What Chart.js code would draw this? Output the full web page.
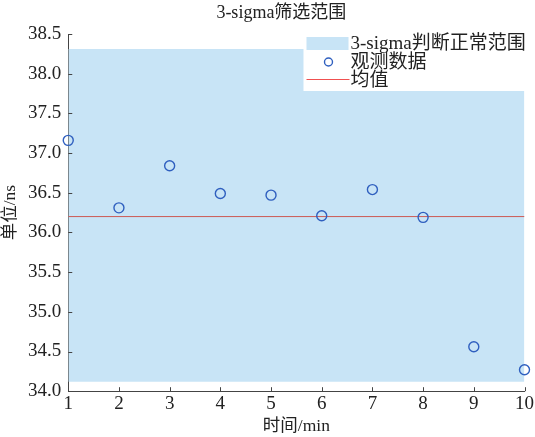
<!DOCTYPE html>
<html>
<head>
<meta charset="utf-8">
<script src="https://cdn.jsdelivr.net/npm/chart.js@4.4.0/dist/chart.umd.min.js"></script>
<style>
  body { margin: 0; background: #fff; }
  #wrap { width: 535px; height: 437px; }
</style>
</head>
<body>
<div id="wrap"><canvas id="sigmaChart" width="535" height="437"></canvas></div>
<script>
// 数据
const timeMin = [1, 2, 3, 4, 5, 6, 7, 8, 9, 10];
const observed = [37.16, 36.31, 36.84, 36.49, 36.47, 36.21, 36.54, 36.19, 34.56, 34.27];
const bandX = [1, 10];
const bandUpper = [38.31, 38.31];
const bandLower = [34.12, 34.12];
const meanValue = [36.2, 36.2];
const yTicks = [34.0, 34.5, 35.0, 35.5, 36.0, 36.5, 37.0, 37.5, 38.0, 38.5];
const legendLabels = ['3-sigma判断正常范围', '观测数据', '均值'];
const chartTitle = '3-sigma筛选范围';

const FONT = "'Liberation Serif', 'Noto Sans CJK SC', serif";
const bandColor = '#c8e4f6';
const pointColor = '#2f5fbf';
const meanColor = '#cc5a55';

function toXY(xs, ys) {
    return xs.map((x, i) => ({ x: x, y: ys[i] }));
}

// 标题（略偏左，与原图一致）
const topTitle = {
    id: 'topTitle',
    afterDraw(chart) {
        const c = chart.ctx, a = chart.chartArea;
        c.save();
        c.font = '18px ' + FONT;
        c.fillStyle = '#222';
        c.textAlign = 'center';
        c.textBaseline = 'middle';
        c.fillText(chartTitle, (a.left + a.right) / 2 - 15, 13);
        c.restore();
    }
};

// 向内的刻度线
const innerTicks = {
    id: 'innerTicks',
    afterDatasetsDraw(chart) {
        const c = chart.ctx, a = chart.chartArea;
        const xs = chart.scales.x, ys = chart.scales.y;
        c.save();
        c.strokeStyle = '#444';
        c.lineWidth = 1;
        c.beginPath();
        timeMin.forEach(v => {
            const px = Math.round(xs.getPixelForValue(v)) + 0.5;
            c.moveTo(px, a.bottom);
            c.lineTo(px, a.bottom - 4);
        });
        yTicks.forEach(v => {
            const py = Math.round(ys.getPixelForValue(v)) + 0.5;
            c.moveTo(a.left, py);
            c.lineTo(a.left + 4, py);
        });
        c.stroke();
        c.restore();
    }
};

// 图例（放在绘图区右上角）
const boxLegend = {
    id: 'boxLegend',
    afterDatasetsDraw(chart) {
        const c = chart.ctx, a = chart.chartArea;
        const left = a.right - 221, top = a.top + 1;
        c.save();
        c.fillStyle = '#fff';
        c.fillRect(left, top, 226, 56);
        c.font = '19px ' + FONT;
        c.fillStyle = '#222';
        c.textBaseline = 'middle';
        const tx = left + 47;
        // 范围
        c.fillStyle = bandColor;
        c.fillRect(left + 3, top + 2, 42, 13);
        c.fillStyle = '#222';
        c.fillText(legendLabels[0], tx, top + 9);
        // 观测数据
        c.strokeStyle = pointColor;
        c.lineWidth = 1.4;
        c.beginPath();
        c.arc(left + 25, top + 27, 4, 0, Math.PI * 2);
        c.stroke();
        c.fillText(legendLabels[1], tx, top + 28);
        // 均值
        c.strokeStyle = '#f05050';
        c.lineWidth = 1;
        c.beginPath();
        c.moveTo(left + 3, top + 44.5);
        c.lineTo(left + 46, top + 44.5);
        c.stroke();
        c.fillText(legendLabels[2], tx, top + 46);
        c.restore();
    }
};

const ctx = document.getElementById('sigmaChart').getContext('2d');
const sigmaChart = new Chart(ctx, {
    type: 'scatter',
    data: {
        datasets: [
            {
                type: 'line',
                label: 'upper',
                data: toXY(bandX, bandUpper),
                borderWidth: 0,
                pointRadius: 0,
                backgroundColor: bandColor,
                fill: '+1',
                order: 3
            },
            {
                type: 'line',
                label: 'lower',
                data: toXY(bandX, bandLower),
                borderWidth: 0,
                pointRadius: 0,
                fill: false,
                order: 3
            },
            {
                type: 'line',
                label: legendLabels[2],
                data: toXY(bandX, meanValue),
                borderColor: meanColor,
                borderWidth: 1,
                pointRadius: 0,
                fill: false,
                order: 2
            },
            {
                label: legendLabels[1],
                data: toXY(timeMin, observed),
                pointStyle: 'circle',
                pointRadius: 5,
                borderColor: pointColor,
                borderWidth: 1.4,
                backgroundColor: 'rgba(0,0,0,0)',
                clip: false,
                order: 1
            }
        ]
    },
    options: {
        responsive: false,
        animation: false,
        layout: { padding: { left: 0, right: 3, top: 34, bottom: 0 } },
        plugins: {
            legend: { display: false },
            tooltip: { enabled: false },
            title: { display: false }
        },
        scales: {
            x: {
                type: 'linear',
                min: 1,
                max: 10,
                afterBuildTicks: s => { s.ticks = timeMin.map(v => ({ value: v })); },
                ticks: { color: '#222', font: { family: FONT, size: 19 }, padding: 1 },
                grid: { display: true, drawOnChartArea: false, drawTicks: false },
                border: { color: '#444', width: 1 },
                title: {
                    display: true,
                    text: '时间/min',
                    color: '#222',
                    font: { family: FONT, size: 17.5 },
                    padding: { top: 0, bottom: 0 }
                }
            },
            y: {
                min: 34,
                max: 38.5,
                afterBuildTicks: s => { s.ticks = yTicks.map(v => ({ value: v })); },
                ticks: {
                    color: '#222',
                    font: { family: FONT, size: 19 },
                    padding: 7,
                    callback: v => Number(v).toFixed(1)
                },
                grid: { display: true, drawOnChartArea: false, drawTicks: false },
                border: { color: '#444', width: 1 },
                title: {
                    display: true,
                    text: '单位/ns',
                    color: '#222',
                    font: { family: FONT, size: 17.5 },
                    padding: { top: 0, bottom: 0 }
                }
            }
        }
    },
    plugins: [innerTicks, boxLegend, topTitle]
});
</script>
</body>
</html>
